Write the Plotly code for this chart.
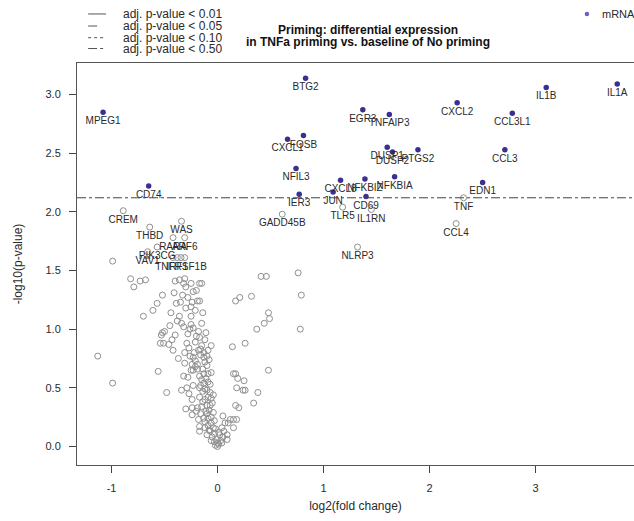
import plotly.graph_objects as go

# ---- data ----
sig_genes = ["MPEG1", "CD74", "BTG2", "CXCL1", "FOSB", "NFIL3", "IER3", "CXCL8", "NFKBIZ",
             "JUN", "EGR3", "TNFAIP3", "CXCL2", "IL1B", "IL1A", "CCL3L1", "DUSP1", "DUSP2",
             "PTGS2", "CCL3", "NFKBIA", "EDN1", "CD69"]
sig_x = [-1.08, -0.65, 0.83, 0.66, 0.81, 0.74, 0.77, 1.16, 1.39,
         1.09, 1.37, 1.62, 2.26, 3.10, 3.77, 2.78, 1.60, 1.65,
         1.89, 2.71, 1.67, 2.50, 1.40]
sig_y = [2.85, 2.22, 3.14, 2.62, 2.65, 2.37, 2.15, 2.27, 2.28,
         2.17, 2.87, 2.83, 2.93, 3.06, 3.09, 2.84, 2.55, 2.51,
         2.53, 2.53, 2.30, 2.25, 2.13]

lab_genes = ["CREM", "WAS", "THBD", "RARA", "ARF6", "PIK3CG", "VAV1", "TNFRSF1B", "IRF1",
             "GADD45B", "TLR5", "IL1RN", "TNF", "CCL4", "NLRP3"]
lab_x = [-0.89, -0.34, -0.64, -0.42, -0.31, -0.57, -0.66, -0.345, -0.38,
         0.61, 1.18, 1.45, 2.32, 2.25, 1.32]
lab_y = [2.01, 1.92, 1.87, 1.78, 1.78, 1.70, 1.66, 1.61, 1.61,
         1.98, 2.04, 2.02, 2.12, 1.90, 1.70]

bg_x = [-0.42, -0.31, -0.99, -0.82, -0.79, -0.73, -0.68, -0.52, -0.57, -0.61, -0.70, -0.44,
        -0.41, -0.40, -0.36, -0.31, -0.32, -0.30, -0.25, -0.17, -0.15, -0.35, -0.33, -0.24,
        -0.25, -0.23, -0.20, -0.19, -0.17, -0.36, -0.25, -0.38, -0.25, -0.32, -0.23, -0.52,
        -0.53, -0.50, -0.40, -0.28, -0.20, -0.17, -0.11, -0.12, -0.54, -0.51, -0.46, -0.43,
        -0.29, -0.21, -0.15, -0.06, -0.18, -0.16, -0.13, -0.09, -1.13, -0.99, -0.56, -0.48,
        -0.31, -0.26, -0.23, -0.21, -0.13, -0.08, -0.24, -0.21, -0.25, -0.23, -0.19, -0.17,
        -0.15, -0.13, -0.09, -0.32, -0.28, -0.23, -0.16, -0.13, -0.09, -0.34, -0.29, -0.27,
        -0.24, -0.17, -0.14, -0.10, -0.07, -0.06, -0.17, -0.12, -0.19, -0.15, -0.10, -0.07,
        -0.30, -0.24, -0.24, -0.20, -0.16, -0.11, -0.08, -0.18, -0.13, -0.09, -0.06, -0.17,
        -0.17, -0.12, -0.09, -0.06, -0.07, -0.03, -0.05, -0.01, 0.00, -0.02, 0.00, -0.03,
        0.05, 0.07, 0.10, 0.12, 0.15, 0.18, 0.15, 0.04, 0.06, 0.09, 0.05, 0.09, 0.02, 0.03,
        0.01, 0.15, 0.17, 0.19, 0.25, 0.18, 0.24, 0.26, 0.38, 0.34, 0.17, 0.20, 0.48, 0.14,
        0.26, 0.37, 0.44, 0.48, 0.49, 0.78, 0.41, 0.46, 0.76, 0.21, 0.17, 0.32, 0.79,
        -0.12, -0.10, -0.14, -0.06, -0.11, -0.07, -0.12, -0.04, -0.09, -0.14, -0.05, -0.10,
        -0.04, -0.12, -0.03, -0.08, -0.04, -0.10, -0.06, -0.02, 0.01, 0.04, -0.16, -0.19,
        -0.22, -0.27, -0.31, -0.10, -0.18, -0.26, -0.34, -0.15, -0.21, -0.30, -0.14, -0.28,
        -0.39, -0.45, -0.42, -0.37]
bg_y = [1.61, 1.61, 1.58, 1.43, 1.36, 1.41, 1.42, 1.29, 1.22, 1.16, 1.11, 1.14,
        1.31, 1.41, 1.42, 1.43, 1.39, 1.36, 1.39, 1.39, 1.39, 1.23, 1.29, 1.23,
        1.19, 1.32, 1.33, 1.24, 1.24, 1.11, 1.11, 1.07, 1.04, 1.02, 1.01, 0.97,
        0.95, 0.98, 0.95, 0.96, 0.94, 0.93, 0.97, 0.91, 0.88, 0.88, 0.87, 0.91,
        0.88, 0.89, 0.86, 0.86, 0.82, 0.83, 0.80, 0.82, 0.77, 0.54, 0.64, 0.46,
        0.71, 0.77, 0.76, 0.73, 0.76, 0.74, 0.70, 0.68, 0.65, 0.65, 0.66, 0.60,
        0.57, 0.62, 0.62, 0.60, 0.59, 0.52, 0.52, 0.54, 0.55, 0.48, 0.50, 0.45,
        0.40, 0.50, 0.47, 0.48, 0.46, 0.41, 0.42, 0.40, 0.33, 0.34, 0.35, 0.35,
        0.32, 0.33, 0.27, 0.30, 0.28, 0.30, 0.31, 0.23, 0.24, 0.24, 0.25, 0.17,
        0.13, 0.16, 0.18, 0.20, 0.13, 0.11, 0.08, 0.06, 0.03, 0.01, 0.00, 0.04,
        0.26, 0.20, 0.20, 0.23, 0.23, 0.23, 0.16, 0.16, 0.13, 0.10, 0.08, 0.06, 0.10, 0.05,
        0.02, 0.62, 0.62, 0.58, 0.56, 0.50, 0.48, 0.48, 0.46, 0.37, 0.35, 0.33, 0.65, 0.85,
        0.88, 1.00, 1.05, 1.14, 1.09, 1.00, 1.45, 1.45, 1.48, 1.27, 1.24, 1.28, 1.29,
        0.72, 0.69, 0.66, 0.63, 0.58, 0.53, 0.49, 0.44, 0.42, 0.38, 0.37, 0.28,
        0.29, 0.21, 0.22, 0.14, 0.16, 0.10, 0.05, 0.15, 0.12, 0.03, 0.78, 0.70,
        0.80, 0.84, 0.80, 0.77, 0.98, 1.00, 1.05, 1.05, 1.16, 1.18, 1.14, 1.27,
        1.22, 1.03, 0.82, 0.75]

threshold_y = 2.12
legend_labels = ["adj. p-value < 0.01", "adj. p-value < 0.05",
                 "adj. p-value < 0.10", "adj. p-value < 0.50"]
legend_dashes = ["solid", "dash", "dot", "dashdot"]
x_ticks = [-1, 0, 1, 2, 3]
y_ticks = [0.0, 0.5, 1.0, 1.5, 2.0, 2.5, 3.0]

FONT = "Liberation Sans, Arial, Helvetica, sans-serif"
PURPLE = "#3d2f8e"
GREY = "#8f8f8f"
TXT = "#2a2a2a"

fig = go.Figure()
fig.add_trace(go.Scatter(
    x=bg_x, y=bg_y, mode="markers", showlegend=False, hoverinfo="skip",
    marker=dict(symbol="circle-open", size=6, color=GREY, line=dict(width=1, color=GREY))))
fig.add_trace(go.Scatter(
    x=lab_x, y=lab_y, mode="markers+text", text=lab_genes, textposition="bottom center",
    textfont=dict(family=FONT, size=10, color=TXT), showlegend=False,
    marker=dict(symbol="circle-open", size=6, color=GREY, line=dict(width=1, color=GREY))))
fig.add_trace(go.Scatter(
    x=sig_x, y=sig_y, mode="markers+text", text=sig_genes, textposition="bottom center",
    textfont=dict(family=FONT, size=10, color=TXT), showlegend=False,
    marker=dict(symbol="circle", size=5.5, color=PURPLE)))

# threshold line
fig.add_shape(type="line", xref="paper", x0=0, x1=1, yref="y", y0=threshold_y, y1=threshold_y,
              line=dict(color="#444444", width=1, dash="dashdot"))

# legend (line styles) at top left
row_y = [1.122, 1.092, 1.063, 1.036]
for lbl, dsh, yy in zip(legend_labels, legend_dashes, row_y):
    fig.add_shape(type="line", xref="paper", yref="paper", x0=0.020, x1=0.052, y0=yy, y1=yy,
                  line=dict(color="#555555", width=1, dash=dsh))
    fig.add_annotation(xref="paper", yref="paper", x=0.079, y=yy, text=lbl, showarrow=False,
                       xanchor="left", yanchor="middle",
                       font=dict(family=FONT, size=12, color=TXT))

# mRNA legend
fig.add_shape(type="circle", xref="paper", yref="paper", x0=0.9115, x1=0.9195,
              y0=1.1165, y1=1.1275, fillcolor="#6a5fc9", line=dict(width=0))
fig.add_annotation(xref="paper", yref="paper", x=0.939, y=1.122, text="mRNA", showarrow=False,
                   xanchor="left", yanchor="middle", font=dict(family=FONT, size=11, color=TXT))

# title
fig.add_annotation(xref="paper", yref="paper", x=0.522, y=1.082,
                   text="<b>Priming: differential expression</b>", showarrow=False,
                   xanchor="center", yanchor="middle", font=dict(family=FONT, size=12, color="#111"))
fig.add_annotation(xref="paper", yref="paper", x=0.522, y=1.052,
                   text="<b>in TNFa priming vs. baseline of No priming</b>", showarrow=False,
                   xanchor="center", yanchor="middle", font=dict(family=FONT, size=12, color="#111"))

fig.update_layout(
    width=634, height=521, autosize=False,
    margin=dict(l=77, r=0, t=63, b=56, autoexpand=False),
    paper_bgcolor="white", plot_bgcolor="white",
    font=dict(family=FONT, size=11, color=TXT),
    xaxis=dict(range=[-1.326, 3.928], tickvals=x_ticks, ticktext=[str(v) for v in x_ticks],
               ticks="outside", ticklen=7, tickcolor="#444", showline=True, linecolor="#555",
               linewidth=1, mirror=True, showgrid=False, zeroline=False, automargin=False,
               tickfont=dict(family=FONT, size=11, color=TXT), ticklabelstandoff=6,
               title=dict(text="log2(fold change)", font=dict(family=FONT, size=12, color=TXT),
                          standoff=8)),
    yaxis=dict(range=[-0.158, 3.269], tickvals=y_ticks, ticktext=[f"{v:.1f}" for v in y_ticks],
               ticks="outside", ticklen=7, tickcolor="#444", showline=True, linecolor="#555",
               linewidth=1, mirror=False, showgrid=False, zeroline=False, automargin=False,
               tickfont=dict(family=FONT, size=11, color=TXT), ticklabelstandoff=6,
               title=dict(text="-log10(p-value)", font=dict(family=FONT, size=12, color=TXT),
                          standoff=20)),
)

fig.write_html("out.html", config={"displayModeBar": False},
               post_script="document.body.style.margin='0';document.body.style.padding='0';")
